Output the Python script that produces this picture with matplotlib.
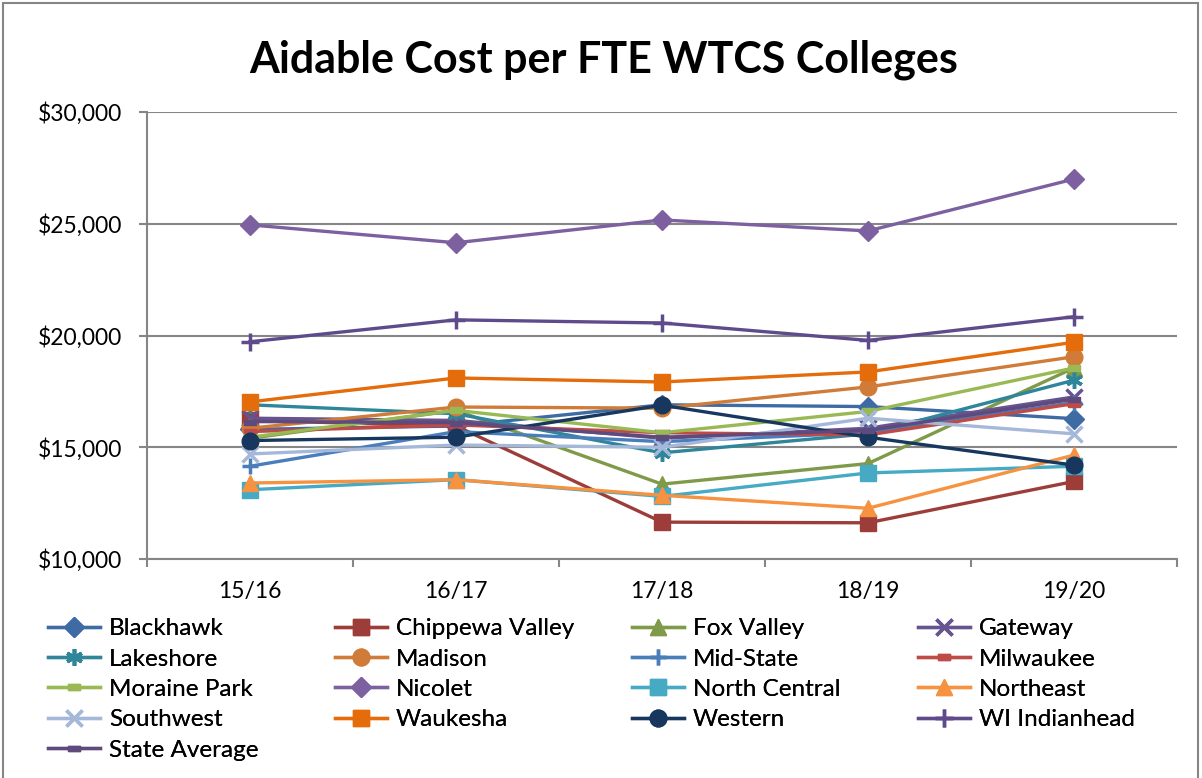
import matplotlib
matplotlib.use("Agg")
import matplotlib.pyplot as plt
from matplotlib.patches import Rectangle
from matplotlib.ticker import FuncFormatter, FixedLocator

plt.rcParams['font.family'] = ['Lato', 'DejaVu Sans']

years = ['15/16', '16/17', '17/18', '18/19', '19/20']

blackhawk = [15800, 15950, 16900, 16820, 16280]
chippewa_valley = [16200, 15950, 11650, 11620, 13470]
fox_valley = [15400, 16650, 13350, 14270, 18550]
gateway = [16300, 16200, 15400, 15850, 17250]
lakeshore = [16900, 16500, 14750, 15600, 18000]
madison = [15850, 16800, 16750, 17700, 19050]
mid_state = [14150, 15700, 15250, 15650, 17000]
milwaukee = [15700, 16000, 15650, 15550, 16950]
moraine_park = [15450, 16650, 15650, 16600, 18550]
nicolet = [24950, 24150, 25170, 24680, 27000]
north_central = [13100, 13550, 12800, 13850, 14150]
northeast = [13400, 13550, 12850, 12270, 14650]
southwest = [14700, 15100, 15000, 16300, 15600]
waukesha = [17030, 18100, 17920, 18370, 19700]
western = [15300, 15450, 16880, 15450, 14200]
wi_indianhead = [19720, 20700, 20560, 19780, 20840]
state_average = [16150, 16100, 15450, 15750, 17150]

names = ['Blackhawk', 'Chippewa Valley', 'Fox Valley', 'Gateway', 'Lakeshore',
         'Madison', 'Mid-State', 'Milwaukee', 'Moraine Park', 'Nicolet',
         'North Central', 'Northeast', 'Southwest', 'Waukesha', 'Western',
         'WI Indianhead', 'State Average']
series = [blackhawk, chippewa_valley, fox_valley, gateway, lakeshore, madison,
          mid_state, milwaukee, moraine_park, nicolet, north_central, northeast,
          southwest, waukesha, western, wi_indianhead, state_average]

dash = [(-1, -0.45), (1, -0.45), (1, 0.45), (-1, 0.45), (-1, -0.45)]
styles = [
    dict(color='#3E6BA4', marker='D', ms=10),
    dict(color='#9C3D39', marker='s', ms=11),
    dict(color='#7F9A48', marker='^', ms=11),
    dict(color='#66538F', marker='x', ms=11, mew=2.5),
    dict(color='#2F8599', marker=(6, 2, 0), ms=12, mew=2.5),
    dict(color='#D07B38', marker='o', ms=12),
    dict(color='#4A7EBB', marker='+', ms=12, mew=2.5),
    dict(color='#BE4B48', marker=dash, ms=9),
    dict(color='#98B954', marker=dash, ms=9),
    dict(color='#7D60A0', marker='D', ms=10),
    dict(color='#46AAC5', marker='s', ms=11),
    dict(color='#F69240', marker='^', ms=12),
    dict(color='#A5B8DA', marker='x', ms=12, mew=2.5),
    dict(color='#E46C0A', marker='s', ms=12),
    dict(color='#17375E', marker='o', ms=12),
    dict(color='#5F4A8B', marker='+', ms=13, mew=2.5),
    dict(color='#5F4A7E', marker=dash, ms=8),
]

W, H = 1202, 778
fig = plt.figure(figsize=(W / 100, H / 100), dpi=100)
ax = fig.add_axes([147 / W, 1 - 559 / H, (1177 - 147) / W, (559 - 112) / H])

x = list(range(len(years)))
handles = []
for name, vals, st in zip(names, series, styles):
    st = dict(st)
    c = st.pop('color')
    mk = st.pop('marker')
    ms = st.pop('ms')
    mew = st.pop('mew', 1.0)
    ln, = ax.plot(x, vals, color=c, lw=2.4, marker=mk, markersize=ms,
                  markerfacecolor=c, markeredgecolor=c, markeredgewidth=mew,
                  label=name, solid_joinstyle='round')
    handles.append(ln)

ax.set_xlim(-0.5, 4.5)
ax.set_ylim(10000, 30000)
ax.set_yticks(range(10000, 30001, 5000))
ax.yaxis.set_major_formatter(FuncFormatter(lambda v, p: '${:,.0f}'.format(v)))
ax.set_xticks(x)
ax.set_xticklabels(years)
ax.xaxis.set_minor_locator(FixedLocator([-0.5, 0.5, 1.5, 2.5, 3.5, 4.5]))
ax.tick_params(axis='x', which='major', length=0, pad=16, labelsize=16.5)
ax.tick_params(axis='x', which='minor', length=6, width=1.5, color='#868686', direction='out')
ax.tick_params(axis='y', which='major', length=6, width=1.5, color='#868686', pad=12, labelsize=16.5)
ax.grid(axis='y', color='#868686', lw=1.5)
ax.set_axisbelow(True)
for s in ['top', 'right']:
    ax.spines[s].set_visible(False)
for s in ['left', 'bottom']:
    ax.spines[s].set_color('#868686')
    ax.spines[s].set_linewidth(1.5)

fig.text(604 / W, 1 - 60 / H, 'Aidable Cost per FTE WTCS Colleges',
         ha='center', va='center', fontsize=31, fontweight='bold')

# legend in 4 columns placed manually
col_x = [48, 335, 632, 918]
for ci, cx in enumerate(col_x):
    hs = handles[ci::4]
    leg = fig.legend(handles=hs, labels=[h.get_label() for h in hs],
                     loc='upper left', bbox_to_anchor=(cx / W, 1 - 618 / H),
                     frameon=False, fontsize=17.5, borderpad=0, borderaxespad=0,
                     handlelength=2.15, handletextpad=0.35, labelspacing=0.39)
    fig.add_artist(leg)

fig.patches.append(Rectangle((3 / W, -0.01), (1198 - 3) / W, 1.0 - 3 / H + 0.01,
                             transform=fig.transFigure, fill=False,
                             edgecolor='#868686', lw=1.5))

fig.savefig('out.png', dpi=100)
